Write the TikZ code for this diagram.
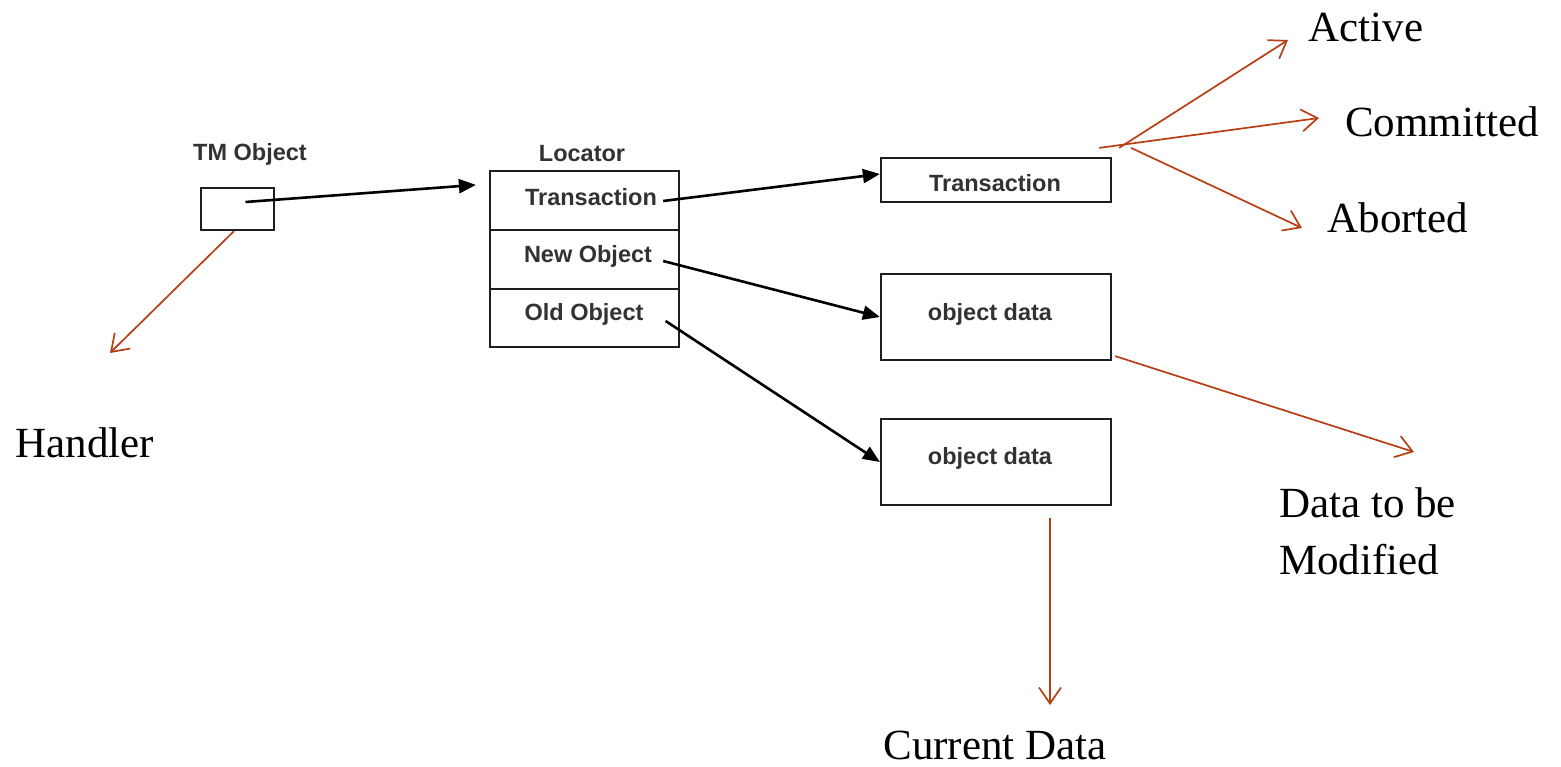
\documentclass[tikz,border=0pt]{standalone}
\usepackage{fontspec}
\setmainfont{Liberation Serif}
\newfontfamily\labfont{Liberation Sans}
\usetikzlibrary{arrows.meta}
\definecolor{rd}{RGB}{184,62,22}
\definecolor{ink}{RGB}{30,30,30}
\definecolor{txt}{RGB}{50,50,50}
\begin{document}
\begin{tikzpicture}[x=1pt,y=-1pt,
  box/.style={draw=ink,line width=2.2pt,inner sep=0pt},
  lab/.style={font=\labfont\bfseries\fontsize{23.5}{27}\selectfont,text=txt,inner sep=3pt},
  big/.style={font=\fontsize{43}{57}\selectfont,text=black,inner sep=0pt},
  blk/.style={draw=black,line width=2.6pt,-{Triangle[length=17pt,width=14pt]}},
  red/.style={draw=rd,line width=1.7pt,-{Straight Barb[length=16pt,width=22pt,line width=1.7pt]}},
  redl/.style={draw=rd,line width=1.7pt}]
\useasboundingbox[fill=white] (0,0) rectangle (1561,767);

% boxes
\node[box,minimum width=73pt,minimum height=42pt] (tm) at (237.5,209) {};
\node[lab] (tml) at (250,154) {TM Object};
\node[box,minimum width=189pt,minimum height=176pt] (loc) at (584.5,259) {};
\draw[ink,line width=2.2pt] (loc.west |- 0,230) -- (loc.east |- 0,230);
\draw[ink,line width=2.2pt] (loc.west |- 0,289) -- (loc.east |- 0,289);
\node[lab] (locl) at (582,154) {Locator};
\node[lab] (ltr) at (591,197) {Transaction};
\node[lab] (lnew) at (588,256) {New Object};
\node[lab] (lold) at (584,314) {Old Object};

\node[box,minimum width=230pt,minimum height=44pt] (tbox) at (996,180) {};
\node[lab] at (995,183) {Transaction};
\node[box,minimum width=230pt,minimum height=86pt] (od1) at (996,317) {};
\node[lab] at (990,314) {object data};
\node[box,minimum width=230pt,minimum height=86pt] (od2) at (996,462) {};
\node[lab] at (990,458) {object data};

% black connectors
\draw[blk] ([shift={(8pt,7pt)}]tm.center) -- ([shift={(-13pt,-15pt)}]loc.north west);
\draw[blk] ([xshift=3pt,yshift=-4pt]ltr.east) -- ([yshift=6pt]tbox.west);
\draw[blk] ([xshift=8pt,yshift=-5pt]lnew.east) -- (od1.west);
\draw[blk] ([xshift=19pt,yshift=-7pt]lold.east) -- (od2.west);

% red labels
\node[big] (hand) at (85,443) {Handler};
\node[big] (act) at (1366,27) {Active};
\node[big] (com) at (1442,122) {Committed};
\node[big] (abo) at (1398,218) {Aborted};
\node[big,align=left,anchor=north west] (mod) at (1279,487) {Data to be\\Modified};
\node[big] (cur) at (995,745) {Current Data};

\coordinate (hTip) at (110,353);
\coordinate (aTip) at (1288,40);
\coordinate (cTip) at (1319,118);
\coordinate (bTip) at (1302,228);
\coordinate (mTip) at (1414,452);
\coordinate (dTip) at (1050,705);

% red connectors
\draw[red] ([xshift=-3.5pt]tm.south) -- (hTip);
\draw[red] ([shift={(7pt,9pt)}]tbox.north east) -- (aTip);
\draw[red] ([shift={(-13pt,9pt)}]tbox.north east) -- (cTip);
\draw[red] ([shift={(19pt,9pt)}]tbox.north east) -- (bTip);
\draw[red] ([shift={(3pt,5pt)}]od1.south east) -- (mTip);
\draw[red] ([shift={(54pt,-12pt)}]od2.south) -- (dTip);
\end{tikzpicture}
\end{document}
